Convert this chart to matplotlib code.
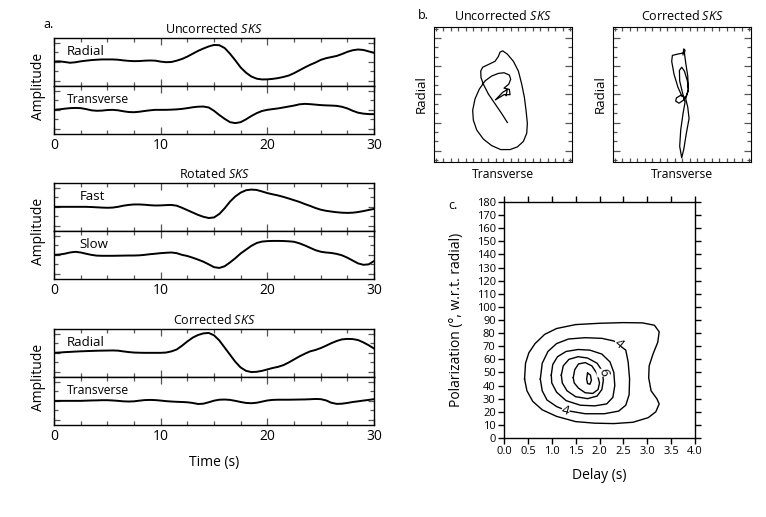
#!/usr/bin/env python
"""
SKS splitting figure: waveforms, particle motion and the delay/polarization grid.
"""

import numpy as np
import matplotlib
matplotlib.use("Agg")
import matplotlib.pyplot as plt
from matplotlib.ticker import MultipleLocator, NullFormatter

plt.rcParams['font.family'] = ['Open Sans', 'DejaVu Sans']
plt.rcParams['mathtext.fontset'] = 'custom'
plt.rcParams['mathtext.rm'] = 'Open Sans'
plt.rcParams['mathtext.it'] = 'Open Sans:italic'

# ---- panel a: traces sampled every 0.5 s from 0 to 30 s ----
time_s = np.arange(0, 30.5, 0.5)

uncorr_radial = [
    0.03, 0.05, -0.02, -0.1, -0.05, 0.05, 0.12, 0.18, 0.22, 0.25,
    0.25, 0.25, 0.22, 0.15, 0.1, 0.07, 0.08, 0.12, 0.14, 0.12,
    0.02, -0.04, -0.02, 0.12, 0.3, 0.55, 0.85, 1.15, 1.4, 1.62,
    1.78, 1.75, 1.45, 0.85, 0.15, -0.6, -1.15, -1.55, -1.78, -1.86,
    -1.85, -1.8, -1.72, -1.6, -1.45, -1.2, -0.9, -0.6, -0.32, -0.08,
    0.2, 0.38, 0.5, 0.62, 0.82, 1.05, 1.22, 1.3, 1.25, 1.1, 0.95]
uncorr_transverse = [
    0.0, 0.05, 0.12, 0.18, 0.2, 0.18, 0.08, -0.05, -0.1, -0.08,
    -0.02, 0.0, -0.05, -0.15, -0.23, -0.25, -0.2, -0.12, -0.05, 0.0,
    0.0, 0.0, 0.02, 0.05, 0.1, 0.18, 0.27, 0.33, 0.35, 0.25,
    -0.1, -0.55, -0.95, -1.3, -1.4, -1.3, -1.0, -0.65, -0.35, -0.12,
    0.0, 0.08, 0.15, 0.25, 0.35, 0.45, 0.58, 0.63, 0.6, 0.55,
    0.5, 0.47, 0.45, 0.42, 0.32, 0.15, -0.1, -0.3, -0.4, -0.45, -0.46]
rot_fast = [
    0.0, 0.0, 0.0, 0.0, 0.0, 0.0, 0.0, -0.02, -0.05, -0.08,
    -0.1, -0.08, 0.0, 0.12, 0.2, 0.25, 0.25, 0.22, 0.17, 0.14,
    0.15, 0.18, 0.2, 0.12, -0.1, -0.35, -0.6, -0.85, -1.05, -1.18,
    -1.12, -0.75, -0.15, 0.55, 1.1, 1.5, 1.75, 1.82, 1.78, 1.62,
    1.45, 1.32, 1.2, 1.05, 0.88, 0.7, 0.52, 0.3, 0.1, -0.12,
    -0.3, -0.42, -0.5, -0.57, -0.62, -0.64, -0.62, -0.55, -0.45, -0.33, -0.22]
rot_slow = [
    0.0, 0.03, 0.12, 0.25, 0.32, 0.25, 0.12, 0.0, -0.08, -0.1,
    -0.1, -0.1, -0.09, -0.08, -0.07, -0.07, -0.05, 0.0, 0.07, 0.12,
    0.18, 0.22, 0.25, 0.18, 0.0, -0.12, -0.3, -0.5, -0.72, -1.0,
    -1.3, -1.38, -1.2, -0.8, -0.35, 0.15, 0.55, 0.95, 1.25, 1.4,
    1.45, 1.47, 1.47, 1.46, 1.43, 1.38, 1.22, 1.0, 0.75, 0.5,
    0.33, 0.25, 0.2, 0.1, -0.05, -0.3, -0.6, -0.9, -1.05, -1.0, -0.65]
corr_radial = [
    0.0, 0.03, 0.07, 0.1, 0.13, 0.16, 0.18, 0.2, 0.22, 0.23,
    0.24, 0.25, 0.23, 0.15, 0.08, 0.03, 0.01, 0.0, 0.0, 0.0,
    0.0, 0.03, 0.15, 0.35, 0.75, 1.2, 1.6, 1.88, 2.05, 2.1,
    1.85, 1.3, 0.55, -0.2, -0.95, -1.55, -1.9, -2.03, -2.0, -1.9,
    -1.75, -1.6, -1.48, -1.3, -1.02, -0.7, -0.38, -0.1, 0.15, 0.3,
    0.5, 0.75, 1.02, 1.25, 1.42, 1.47, 1.45, 1.35, 1.1, 0.8, 0.45]
corr_transverse = [
    0.0, 0.0, 0.0, 0.0, 0.0, 0.0, 0.02, 0.04, 0.05, 0.07,
    0.07, 0.04, 0.0, -0.05, -0.07, -0.05, 0.02, 0.08, 0.1, 0.08,
    0.03, -0.03, -0.07, -0.1, -0.12, -0.15, -0.22, -0.33, -0.3, -0.15,
    0.02, 0.12, 0.14, 0.1, 0.0, -0.12, -0.22, -0.25, -0.2, -0.08,
    0.04, 0.1, 0.12, 0.12, 0.12, 0.13, 0.14, 0.15, 0.17, 0.2,
    0.18, 0.05, -0.2, -0.32, -0.3, -0.22, -0.12, -0.05, 0.03, 0.1, 0.18]

trace_groups = [
    ("Uncorrected", [("Radial", uncorr_radial), ("Transverse", uncorr_transverse)]),
    ("Rotated", [("Fast", rot_fast), ("Slow", rot_slow)]),
    ("Corrected", [("Radial", corr_radial), ("Transverse", corr_transverse)]),
]

# ---- panel b: particle motion (transverse, radial) ----
uncorr_pm_transverse = [
    0.075, -0.023, -0.139, -0.255, -0.342, -0.383, -0.388, -0.354, -0.255, -0.139,
    -0.081, -0.052, -0.006, 0.075, 0.180, 0.267, 0.325, 0.371, 0.400, 0.423,
    0.412, 0.354, 0.249, 0.122, -0.041, -0.197, -0.342, -0.458, -0.516, -0.528,
    -0.487, -0.412, -0.313, -0.197, -0.081, 0.017, 0.110, 0.133, 0.099, 0.017,
    0.110, 0.122, 0.017, -0.133, -0.006, 0.075, 0.052]
uncorr_pm_radial = [
    -0.499, -0.342, -0.168, 0.006, 0.180, 0.296, 0.412, 0.481, 0.528, 0.586,
    0.672, 0.748, 0.771, 0.713, 0.586, 0.412, 0.180, -0.052, -0.284, -0.516,
    -0.690, -0.835, -0.933, -0.980, -0.980, -0.910, -0.794, -0.632, -0.458, -0.284,
    -0.081, 0.093, 0.238, 0.325, 0.371, 0.383, 0.342, 0.267, 0.180, 0.110,
    0.087, -0.006, -0.006, -0.099, 0.035, 0.087, -0.023]
corr_pm_transverse = [
    0.017, 0.029, 0.052, 0.041, -0.081, -0.168, -0.180, -0.139, -0.070, -0.006,
    0.052, -0.023, -0.099, -0.110, -0.052, 0.017, 0.075, 0.110, 0.093, 0.041,
    -0.006, -0.046, -0.041, 0.006, 0.052, 0.017, -0.023, -0.041, -0.006, 0.029,
    0.075, 0.122, 0.099, 0.064, 0.110, 0.099, 0.064, 0.041]
corr_pm_radial = [
    0.701, 0.806, 0.783, 0.736, 0.713, 0.690, 0.586, 0.354, 0.122, -0.023,
    -0.064, -0.017, -0.064, -0.122, -0.157, -0.110, -0.023, 0.064, 0.238, 0.412,
    0.481, 0.423, 0.238, 0.035, -0.139, -0.342, -0.632, -0.922, -1.125, -0.980,
    -0.690, -0.429, -0.226, -0.081, 0.093, 0.325, 0.557, 0.736]

# ---- panel c: contours of the splitting grid (delay s, polarization deg) ----
contour_levels = [3, 4, 5, 6, 7, 8]
contour_delay = [
    [0.43, 0.45, 0.52, 0.65, 0.85, 1.1, 1.5, 2.0, 2.5, 2.9, 3.15, 3.25, 3.22, 3.12,
     3.04, 3.03, 3.08, 3.2, 3.25, 3.18, 3.02, 2.7, 2.3, 1.9, 1.5, 1.1, 0.8, 0.6, 0.48, 0.43],
    [0.76, 0.8, 0.92, 1.1, 1.35, 1.7, 2.05, 2.3, 2.55, 2.6, 2.63, 2.62, 2.55, 2.4,
     2.1, 1.7, 1.3, 1.1, 0.9, 0.8, 0.76],
    [0.99, 1.02, 1.12, 1.3, 1.55, 1.8, 2.05, 2.22, 2.3, 2.32, 2.28, 2.15, 1.9, 1.6,
     1.3, 1.1, 1.0, 0.99],
    [1.2, 1.24, 1.36, 1.55, 1.75, 1.95, 2.06, 2.08, 2.05, 1.95, 1.75, 1.5, 1.32, 1.22, 1.2],
    [1.45, 1.48, 1.56, 1.7, 1.84, 1.95, 2.0, 1.97, 1.86, 1.7, 1.56, 1.47, 1.45],
    [1.75, 1.81, 1.83, 1.8, 1.75, 1.73, 1.75],
]
contour_polarization = [
    [45, 57, 65, 72, 79, 83.5, 86.5, 87.5, 88, 87.8, 86, 81, 73, 64,
     55, 46, 36, 30, 26, 20, 15.5, 12, 11, 11.3, 12.5, 16.5, 21.5, 28, 36, 45],
    [45, 57, 66, 72, 75.5, 76.5, 76, 74, 67, 58, 45, 33, 25, 20.5,
     18.5, 18.5, 21, 24, 29, 36, 45],
    [48, 56, 62, 66, 67.5, 67, 64, 58, 50, 40, 31, 26, 24.5, 25,
     28.5, 35, 42, 48],
    [48, 55, 60, 62, 61, 57, 51, 44, 37, 32, 30, 31.5, 36, 42, 48],
    [46, 52, 56.5, 57.5, 55, 49, 42, 37, 34, 34.5, 38, 42, 46],
    [49.5, 48, 44, 41, 41.5, 45, 49.5],
]
label_text = ["4", "4", "6"]
label_delay = [2.4, 1.29, 2.08]
label_polarization = [72, 21, 50]
label_angle = [-40, -15, -80]


def style_trace_axes(ax, show_xlabels):
    ax.set_xlim(0, 30)
    ax.set_ylim(-2.55, 2.55)
    ax.xaxis.set_major_locator(MultipleLocator(10))
    ax.xaxis.set_minor_locator(MultipleLocator(2.5))
    ax.yaxis.set_major_locator(MultipleLocator(2))
    ax.yaxis.set_minor_locator(MultipleLocator(1))
    ax.tick_params(which='both', direction='in', top=True, right=True,
                   width=0.9, color='#555555')
    ax.tick_params(which='major', length=5)
    ax.tick_params(which='minor', length=3)
    ax.tick_params(axis='y', which='major', length=4)
    ax.set_yticklabels([])
    if not show_xlabels:
        ax.set_xticklabels([])
    ax.tick_params(axis='x', labelsize=10, pad=3)
    for s in ax.spines.values():
        s.set_linewidth(1.0)


def plot_traces(fig):
    left, width = 0.0705, 0.4178
    bottoms = [(0.8337, 0.7408), (0.5532, 0.4603), (0.2708, 0.1779)]
    height = 0.0935
    for gi, (title, traces) in enumerate(trace_groups):
        for ti, (name, values) in enumerate(traces):
            ax = fig.add_axes([left, bottoms[gi][ti], width, height])
            ax.plot(time_s, values, color='black', lw=1.4)
            style_trace_axes(ax, show_xlabels=(ti == 1))
            xpos = 0.08 if name in ("Fast", "Slow") else 0.04
            size = 8.7 if name == "Transverse" else 9.5
            ax.text(xpos, 0.72, name, transform=ax.transAxes, fontsize=size,
                    ha='left', va='center')
            if ti == 0:
                ax.set_title(title + r" $\mathit{SKS}$", fontsize=9, pad=3)
            if gi == 2 and ti == 1:
                ax.set_xlabel("Time (s)", fontsize=10, labelpad=8)
        fig.text(0.05, bottoms[gi][0], "Amplitude", rotation=90, fontsize=10,
                 ha='center', va='center')
    fig.text(0.057, 0.952, "a.", fontsize=9, ha='left', va='center')


def plot_particle_motion(fig):
    boxes = [0.5666, 0.8003]
    data = [("Uncorrected", uncorr_pm_transverse, uncorr_pm_radial),
            ("Corrected", corr_pm_transverse, corr_pm_radial)]
    for x0, (title, tr, rad) in zip(boxes, data):
        ax = fig.add_axes([x0, 0.6867, 0.1802, 0.2617])
        ax.plot(tr, rad, color='black', lw=0.9)
        ax.set_xlim(-1.2, 1.2)
        ax.set_ylim(-1.2, 1.2)
        ax.set_xticks(np.arange(-1.17, 1.2, 0.13), minor=True)
        ax.set_xticks([])
        ax.yaxis.set_major_locator(MultipleLocator(0.5))
        ax.yaxis.set_minor_locator(MultipleLocator(0.5 / 3))
        ax.xaxis.set_minor_formatter(NullFormatter())
        ax.set_yticklabels([])
        ax.tick_params(which='both', direction='in', top=True, right=True,
                       width=0.9, color='#555555')
        ax.tick_params(which='major', length=5)
        ax.tick_params(which='minor', length=3)
        ax.set_title(title + r" $\mathit{SKS}$", fontsize=9, pad=5)
        ax.set_xlabel("Transverse", fontsize=8.7, labelpad=1)
        ax.set_ylabel("Radial", fontsize=9.5, labelpad=1)
    fig.text(0.546, 0.970, "b.", fontsize=9, ha='left', va='center')


def plot_grid_search(fig):
    ax = fig.add_axes([0.658, 0.1528, 0.2493, 0.4565])
    for d, p in zip(contour_delay, contour_polarization):
        ax.plot(d, p, color='black', lw=1.0)
    for txt, d, p, ang in zip(label_text, label_delay, label_polarization, label_angle):
        ax.text(d, p, txt, fontsize=9.5, rotation=ang, ha='center', va='center',
                bbox=dict(facecolor='white', edgecolor='none', pad=0.2))
    ax.set_xlim(0, 4)
    ax.set_ylim(0, 180)
    ax.xaxis.set_major_locator(MultipleLocator(0.5))
    ax.yaxis.set_major_locator(MultipleLocator(10))
    ax.xaxis.set_major_formatter(plt.FormatStrFormatter('%.1f'))
    ax.tick_params(direction='out', top=True, right=True, length=4,
                   width=1.0, labelsize=8, pad=2)
    ax.set_xlabel("Delay (s)", fontsize=10, labelpad=8)
    ax.set_ylabel("Polarization (°, w.r.t. radial)", fontsize=10, labelpad=9)
    for s in ax.spines.values():
        s.set_linewidth(1.0)
    fig.text(0.585, 0.603, "c.", fontsize=9, ha='left', va='center')


def main():
    fig = plt.figure(figsize=(7.66, 5.17), dpi=100)
    plot_traces(fig)
    plot_particle_motion(fig)
    plot_grid_search(fig)
    fig.savefig('out.png', dpi=100)
    return 0


if __name__ == '__main__':
    exit(main())
